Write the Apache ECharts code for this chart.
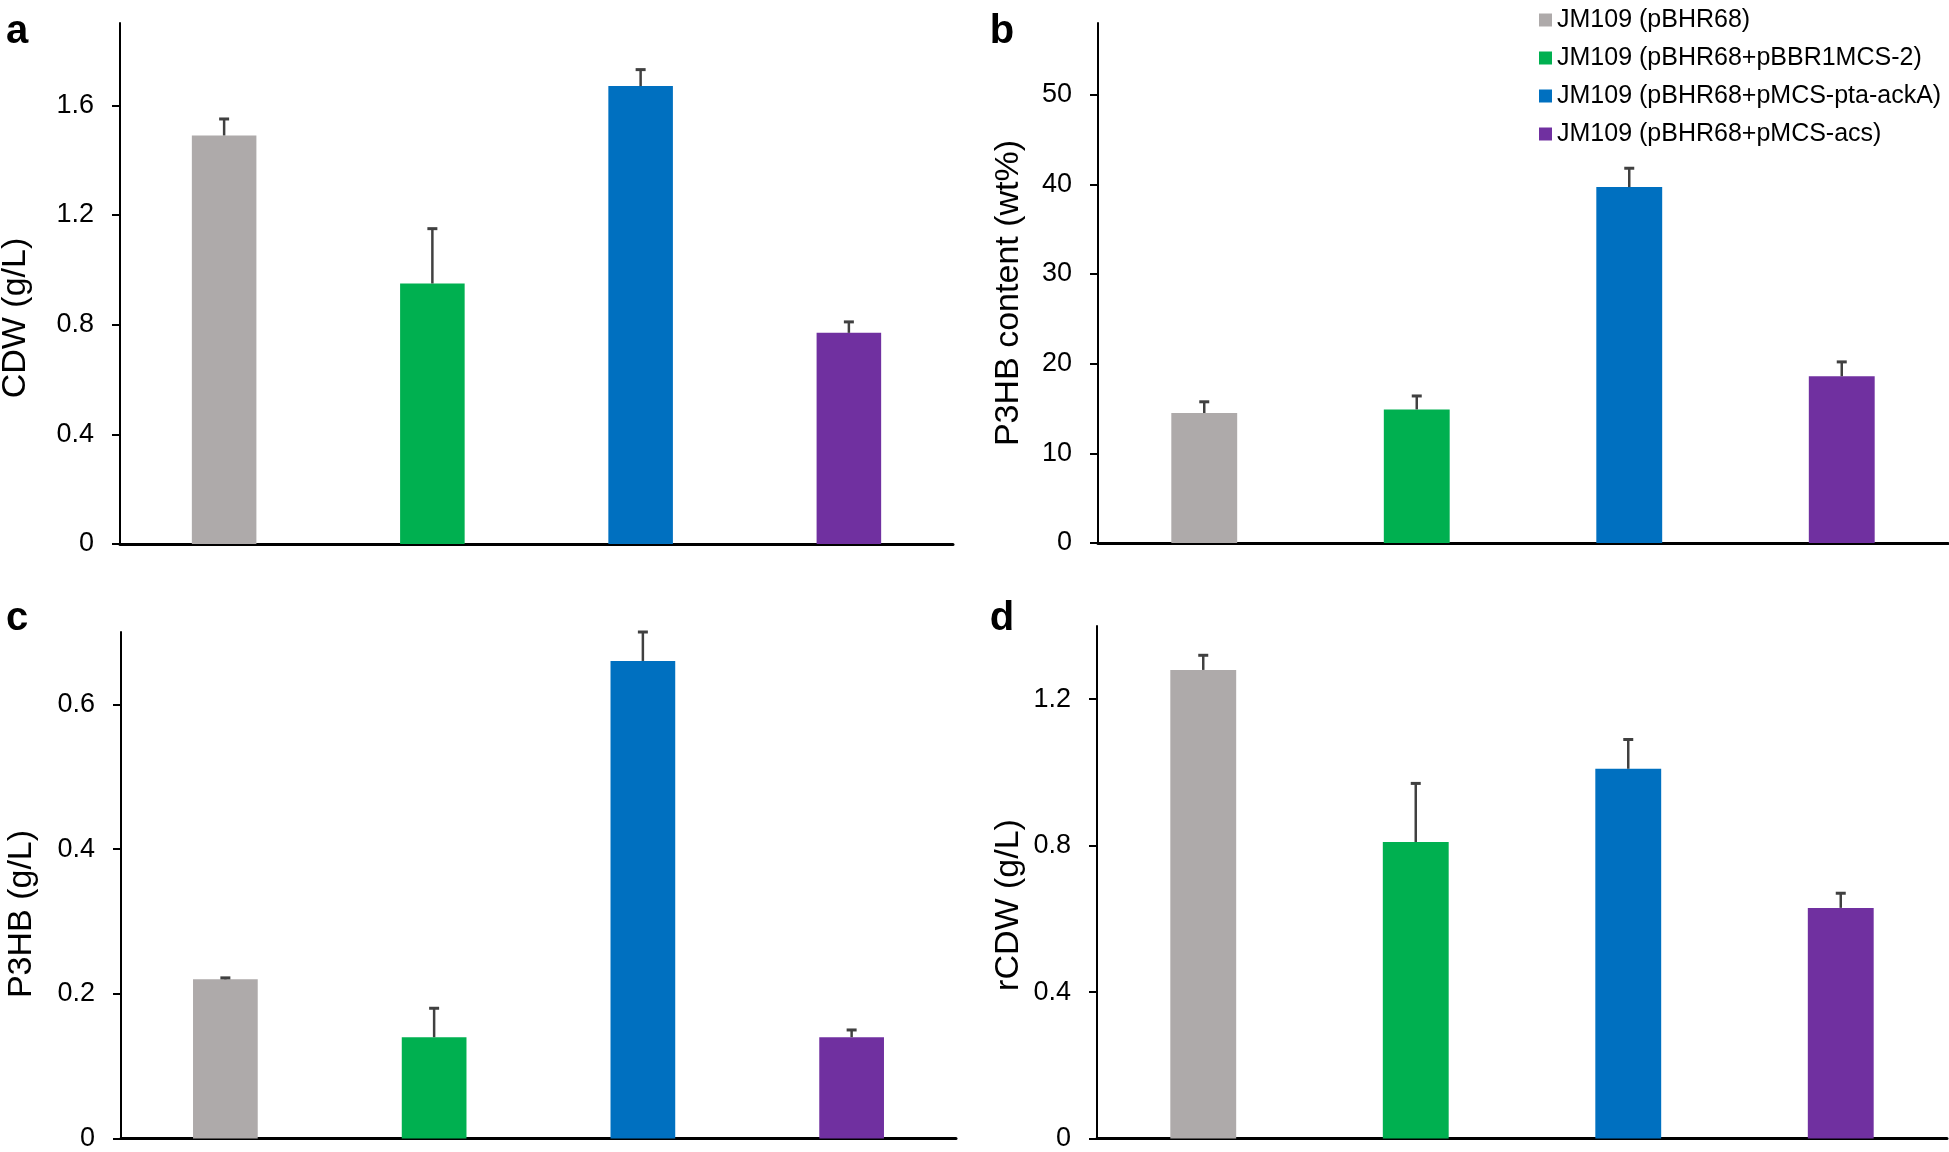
<!DOCTYPE html>
<html>
<head>
<meta charset="utf-8">
<script src="https://cdn.jsdelivr.net/npm/echarts@6/dist/echarts.min.js"></script>
<style>
html,body{margin:0;padding:0;background:#fff;}
#chart{width:1949px;height:1152px;}
</style>
</head>
<body>
<div id="chart"></div>
<script>
// ---- data ----
const categories = ['JM109 (pBHR68)', 'JM109 (pBHR68+pBBR1MCS-2)', 'JM109 (pBHR68+pMCS-pta-ackA)', 'JM109 (pBHR68+pMCS-acs)'];
const colors = ['#AEAAAA', '#00B050', '#0070C0', '#7030A0'];

const cdwMean = [1.49, 0.95, 1.67, 0.77];
const cdwSd = [0.06, 0.20, 0.06, 0.04];
const cdwTicks = [0, 0.4, 0.8, 1.2, 1.6];

const contentMean = [14.5, 14.9, 39.7, 18.6];
const contentSd = [1.25, 1.5, 2.1, 1.6];
const contentTicks = [0, 10, 20, 30, 40, 50];

const p3hbMean = [0.22, 0.14, 0.66, 0.14];
const p3hbSd = [0.002, 0.04, 0.04, 0.01];
const p3hbTicks = [0, 0.2, 0.4, 0.6];

const rcdwMean = [1.28, 0.81, 1.01, 0.63];
const rcdwSd = [0.04, 0.16, 0.08, 0.04];
const rcdwTicks = [0, 0.4, 0.8, 1.2];

const panelLetters = ['a', 'b', 'c', 'd'];
const axisTitles = ['CDW (g/L)', 'P3HB content (wt%)', 'P3HB (g/L)', 'rCDW (g/L)'];

// ---- layout ----
const FONT = "'Liberation Sans', Arial, Helvetica, sans-serif";
const panels = [
  {mean: cdwMean, sd: cdwSd, ticks: cdwTicks, max: 1.9,
   grid: {left: 120, right: 996, top: 23, bottom: 608}, letter: [17, 32], title: [16, 318]},
  {mean: contentMean, sd: contentSd, ticks: contentTicks, max: 58,
   grid: {left: 1098, right: 1, top: 23, bottom: 609}, letter: [1002, 32], title: [1009, 293]},
  {mean: p3hbMean, sd: p3hbSd, ticks: p3hbTicks, max: 0.7,
   grid: {left: 121, right: 993, top: 632, bottom: 11.5}, letter: [17, 619], title: [22, 914]},
  {mean: rcdwMean, sd: rcdwSd, ticks: rcdwTicks, max: 1.4,
   grid: {left: 1097, right: 2, top: 626, bottom: 11.5}, letter: [1002, 619], title: [1009, 905]}
];

const grids = [], xAxes = [], yAxes = [], series = [], graphics = [];
panels.forEach((p, i) => {
  grids.push(Object.assign({containLabel: false}, p.grid));
  xAxes.push({
    type: 'category', gridIndex: i, data: categories,
    axisLine: {show: true, lineStyle: {color: '#000', width: 3}},
    axisTick: {show: false}, axisLabel: {show: false}, splitLine: {show: false}
  });
  yAxes.push({
    type: 'value', gridIndex: i, min: 0, max: p.max,
    axisLine: {show: true, lineStyle: {color: '#000', width: 2}},
    axisTick: {show: true, length: 8, inside: false, lineStyle: {color: '#000', width: 2}, customValues: p.ticks},
    axisLabel: {show: true, customValues: p.ticks, margin: 26, fontSize: 27, color: '#000', fontFamily: FONT},
    splitLine: {show: false}
  });
  categories.forEach((name, j) => {
    series.push({
      type: 'bar', name: name, xAxisIndex: i, yAxisIndex: i,
      data: p.mean.map((v, k) => k === j ? v : '-'),
      barWidth: '31%', barGap: '-100%',
      itemStyle: {color: colors[j]},
      animation: false
    });
  });
  series.push({
    type: 'custom', xAxisIndex: i, yAxisIndex: i, z: 10,
    data: p.mean.map((v, k) => [k, v, v + p.sd[k]]),
    encode: {x: 0, y: [1, 2]},
    renderItem: function (params, api) {
      const base = api.coord([api.value(0), api.value(1)]);
      const top = api.coord([api.value(0), api.value(2)]);
      const st = {stroke: '#404040', lineWidth: 2.5};
      return {
        type: 'group',
        children: [
          {type: 'line', shape: {x1: base[0], y1: base[1], x2: top[0], y2: top[1]}, style: st},
          {type: 'line', shape: {x1: top[0] - 5, y1: top[1], x2: top[0] + 5, y2: top[1]}, style: {stroke: '#404040', lineWidth: 3}}
        ]
      };
    },
    animation: false
  });
  graphics.push({
    type: 'text', x: p.letter[0], y: p.letter[1],
    style: {text: panelLetters[i], font: 'bold 40px ' + FONT, fill: '#000', textAlign: 'center', textVerticalAlign: 'middle'}
  });
  graphics.push({
    type: 'text', x: p.title[0], y: p.title[1], rotation: Math.PI / 2,
    style: {text: axisTitles[i], font: '34px ' + FONT, fill: '#000', textAlign: 'center', textVerticalAlign: 'middle'}
  });
});

const chart = echarts.init(document.getElementById('chart'), null, {renderer: 'canvas'});
chart.setOption({
  animation: false,
  backgroundColor: '#fff',
  textStyle: {fontFamily: FONT},
  grid: grids,
  xAxis: xAxes,
  yAxis: yAxes,
  legend: {
    data: categories, orient: 'vertical', left: 1534, top: 2,
    icon: 'rect', itemWidth: 13, itemHeight: 13, itemGap: 12,
    textStyle: {fontSize: 25, lineHeight: 26, color: '#000', fontFamily: FONT},
    selectedMode: false
  },
  series: series,
  graphic: graphics
});
</script>
</body>
</html>
